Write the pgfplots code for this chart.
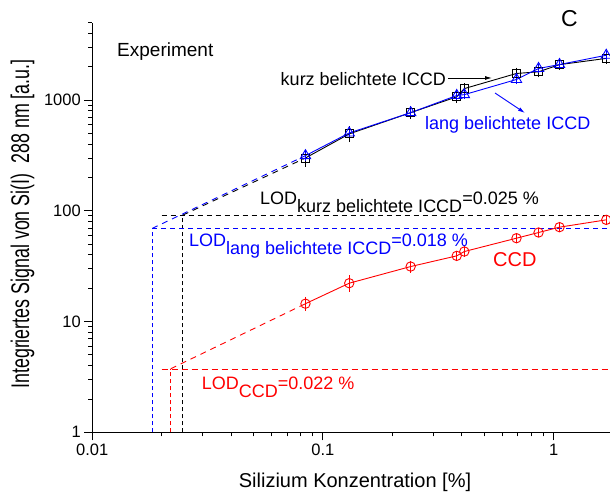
\documentclass[border=0pt]{standalone}
\usepackage{fontspec}
\setmainfont{Liberation Sans}
\usepackage{pgfplots}
\pgfplotsset{compat=1.18}
\usetikzlibrary{arrows.meta}

\definecolor{ldblue}{RGB}{0,0,255}
\definecolor{ldred}{RGB}{255,0,0}

% LOD with a subscript nearly as large as the text
\newcommand\lod[2]{LOD\raisebox{-7.5pt}{#1}=#2~\%}

\begin{document}
\begin{tikzpicture}
\useasboundingbox (0,0) rectangle (610pt,497pt);
\begin{axis}[
  at={(92.2pt,64.7pt)}, anchor=south west,
  scale only axis, width=518pt, height=409.6pt,
  xmode=log, ymode=log,
  xmin=0.01, xmax=1.758, ymin=1, ymax=5000,
  axis x line=bottom, axis y line=left,
  axis line style={-, line width=1.2pt},
  tick align=outside,
  major tick length=8pt, minor tick length=4pt,
  tick style={black, line width=0.9pt},
  xtick={0.01,0.1,1}, xticklabels={0.01,0.1,1},
  ytick={1,10,100,1000}, yticklabels={1,10,100,1000},
  minor xtick={0.02,0.03,0.04,0.05,0.06,0.07,0.08,0.09,0.2,0.3,0.4,0.5,0.6,0.7,0.8,0.9},
  minor ytick={2,3,4,5,6,7,8,9,20,30,40,50,60,70,80,90,200,300,400,500,600,700,800,900,2000,3000,4000,5000},
  ticklabel style={font=\fontsize{16.5}{19}\selectfont},
  clip=false,
  error bars/error bar style={line width=0.8pt},
  error bars/error mark options={mark size=3pt, line width=0.8pt},
]
% LOD reference lines
\addplot[draw=black, line width=0.8pt, dash pattern=on 4pt off 3pt] coordinates {(0.0247,1) (0.0247,91.5)};
\addplot[draw=black, line width=0.8pt, dash pattern=on 5pt off 4pt] coordinates {(0.020,91.5) (1.758,91.5)};
\addplot[draw=ldblue, line width=0.8pt, dash pattern=on 4pt off 3pt] coordinates {(0.0182,1) (0.0182,69.4)};
\addplot[draw=ldblue, line width=0.8pt, dash pattern=on 5pt off 4pt] coordinates {(0.0182,69.4) (1.758,69.4)};
\addplot[draw=ldred, line width=0.8pt, dash pattern=on 4pt off 3pt] coordinates {(0.0219,1) (0.0219,3.75)};
\addplot[color=red, line width=1pt, dash pattern=on 6pt off 4pt] coordinates {(0.020,3.72) (1.758,3.72)};
% extrapolations
\addplot[draw=black, line width=0.9pt, dash pattern=on 6pt off 5pt] coordinates {(0.0247,91.5) (0.084,300)};
\addplot[draw=ldblue, line width=0.9pt, dash pattern=on 6pt off 5pt] coordinates {(0.0182,69.4) (0.084,315)};
\addplot[draw=ldred, line width=0.9pt, dash pattern=on 6pt off 5pt] coordinates {(0.0219,3.75) (0.084,14.5)};
% kurz belichtete ICCD
\addplot[black, line width=0.9pt, mark=square, mark size=4pt,
  mark options={solid, fill=white, line width=0.9pt},
  error bars/.cd, y dir=both, y explicit]
  coordinates {
  (0.084,300) +- (0,35)
  (0.13,495) +- (0,50)
  (0.24,770) +- (0,55)
  (0.38,1070) +- (0,70)
  (0.41,1270) +- (0,70)
  (0.69,1740) +- (0,110)
  (0.86,1800) +- (0,90)
  (1.06,2090) +- (0,80)
  (1.69,2380) +- (0,110)
  };
% lang belichtete ICCD
\addplot[ldblue, line width=0.9pt, mark=triangle, mark size=6pt,
  mark options={solid, fill=white, line width=0.9pt},
  error bars/.cd, y dir=both, y explicit]
  coordinates {
  (0.084,315) +- (0,15)
  (0.13,505) +- (0,20)
  (0.24,770) +- (0,25)
  (0.38,1100) +- (0,30)
  (0.41,1120) +- (0,30)
  (0.69,1535) +- (0,50)
  (0.86,1930) +- (0,50)
  (1.06,2095) +- (0,60)
  (1.69,2540) +- (0,70)
  };
% CCD
\addplot[ldred, line width=0.9pt, mark=o, mark size=4.7pt,
  mark options={solid, fill=white, line width=0.9pt},
  error bars/.cd, y dir=both, y explicit]
  coordinates {
  (0.084,14.5) +- (0,1.2)
  (0.13,22.2) +- (0,2.4)
  (0.24,31.4) +- (0,2)
  (0.38,39.2) +- (0,1.8)
  (0.41,42.9) +- (0,2)
  (0.69,56.6) +- (0,2.5)
  (0.86,63.7) +- (0,2.5)
  (1.06,71.2) +- (0,3)
  (1.69,82.9) +- (0,3)
  };
\end{axis}
% texts and arrows, in picture pixels (y downwards)
\begin{scope}[x=1pt,y=-1pt,shift={(0pt,497pt)}]
  \node[anchor=base west, inner sep=0, font=\fontsize{19}{22}\selectfont] at (117,56.5) {Experiment};
  \node[anchor=base west, inner sep=0, font=\fontsize{23}{26}\selectfont] at (561,26.7) {C};
  \node[anchor=base east, inner sep=0, font=\fontsize{18}{21}\selectfont] at (446,86) {kurz belichtete ICCD};
  \draw[-{Latex[length=7pt,width=4pt]}, line width=0.9pt] (448,78) -- (492,78);
  \node[anchor=base west, inner sep=0, text=ldblue, font=\fontsize{18}{21}\selectfont] at (425,130) {lang belichtete ICCD};
  \draw[ldblue, -{Latex[length=7pt,width=4pt]}, line width=0.9pt] (495,93) -- (525,113);
  \node[anchor=base west, inner sep=0, font=\fontsize{18}{21}\selectfont] at (260,205) {\lod{kurz belichtete ICCD}{0.025}};
  \node[anchor=base west, inner sep=0, text=ldblue, font=\fontsize{18}{21}\selectfont] at (189,246.7) {\lod{lang belichtete ICCD}{0.018}};
  \node[anchor=base west, inner sep=0, text=ldred, font=\fontsize{20}{23}\selectfont] at (493,267) {CCD};
  \node[anchor=base west, inner sep=0, text=ldred, font=\fontsize{18}{21}\selectfont] at (201.7,390) {\lod{CCD}{0.022}};
  \node[anchor=base, inner sep=0, font=\fontsize{20}{23}\selectfont] at (355,488) {Silizium Konzentration [\%]};
  \node[rotate=90, anchor=center, inner sep=0] at (22.5,224) {\scalebox{0.70}[1]{\fontsize{25.5}{28}\selectfont Integriertes Signal von Si(I)\ \ 288 nm [a.u.]}};
\end{scope}
\end{tikzpicture}
\end{document}
